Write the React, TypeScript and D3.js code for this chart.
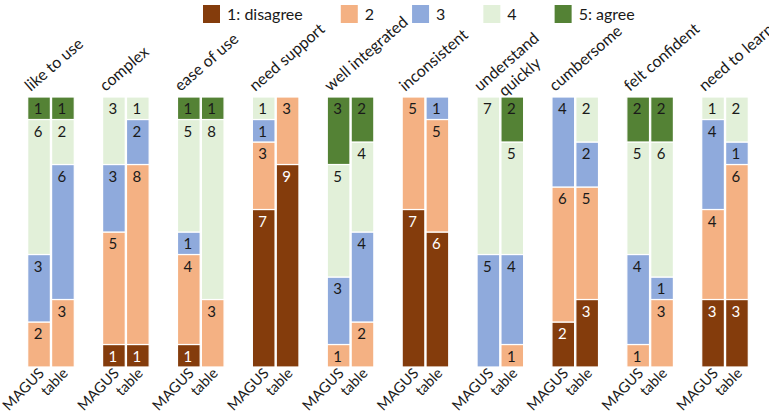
import * as d3 from "d3";
import { useEffect, useRef } from "react";

const questions = [
  "like to use",
  "complex",
  "ease of use",
  "need support",
  "well integrated",
  "inconsistent",
  "understand\nquickly",
  "cumbersome",
  "felt confident",
  "need to learn",
];
const conditions = ["MAGUS", "table"];
const levels = ["1: disagree", "2", "3", "4", "5: agree"];
const colors = ["#843C0C", "#F4B183", "#8FAADC", "#E2F0D9", "#548235"];

// counts per level (1..5) for each question, 12 participants
const magusCounts = [
  [0, 2, 3, 6, 1],
  [1, 5, 3, 3, 0],
  [1, 4, 1, 5, 1],
  [7, 3, 1, 1, 0],
  [0, 1, 3, 5, 3],
  [7, 5, 0, 0, 0],
  [0, 0, 5, 7, 0],
  [2, 6, 4, 0, 0],
  [0, 1, 4, 5, 2],
  [3, 4, 4, 1, 0],
];
const tableCounts = [
  [0, 3, 6, 2, 1],
  [1, 8, 2, 1, 0],
  [0, 3, 0, 8, 1],
  [9, 3, 0, 0, 0],
  [0, 2, 4, 4, 2],
  [6, 5, 1, 0, 0],
  [0, 1, 4, 5, 2],
  [3, 5, 2, 2, 0],
  [0, 3, 1, 6, 2],
  [3, 6, 1, 2, 0],
];

const W = 769;
const H = 417;
const FONT = "Lato, 'Open Sans', sans-serif";

export default function App() {
  const ref = useRef<SVGSVGElement | null>(null);

  useEffect(() => {
    const svg = d3.select(ref.current);
    svg.selectAll("*").remove();
    svg.style("font-family", FONT);

    const x = d3
      .scaleBand<string>()
      .domain(questions)
      .range([27.7, 748.3])
      .paddingInner(0.378)
      .paddingOuter(0);
    const xs = d3
      .scaleBand<string>()
      .domain(conditions)
      .range([0, x.bandwidth()])
      .paddingInner(0.05);
    const y = d3.scaleLinear().domain([0, 12]).range([367, 97]);
    const keys = levels.map((_, i) => String(i));

    // stacked bars
    const countsBy: Record<string, number[][]> = { MAGUS: magusCounts, table: tableCounts };
    conditions.forEach((cond) => {
      const rows = questions.map((q, i) => {
        const r: Record<string, number | string> = { q };
        countsBy[cond][i].forEach((v, k) => (r[String(k)] = v));
        return r;
      });
      const series = d3.stack<Record<string, number | string>>().keys(keys)(rows as any);
      const g = svg.append("g");
      series.forEach((s, li) => {
        s.forEach((seg) => {
          const v = seg[1] - seg[0];
          if (v <= 0) return;
          const q = seg.data.q as string;
          const bx = (x(q) ?? 0) + (xs(cond) ?? 0);
          const top = y(seg[1]);
          g.append("rect")
            .attr("x", bx)
            .attr("y", top)
            .attr("width", xs.bandwidth())
            .attr("height", y(seg[0]) - top)
            .attr("fill", colors[li])
            .attr("stroke", "#fff")
            .attr("stroke-width", 1.2);
          g.append("text")
            .attr("x", bx + xs.bandwidth() / 2 - 1)
            .attr("y", top + 17)
            .attr("text-anchor", "middle")
            .attr("font-size", 15)
            .attr("fill", li === 0 ? "#fff" : "#1a1a1a")
            .text(v);
        });
      });
    });

    // condition labels under bars
    questions.forEach((q) => {
      conditions.forEach((cond) => {
        const cx = (x(q) ?? 0) + (xs(cond) ?? 0) + xs.bandwidth() / 2;
        svg
          .append("text")
          .attr("transform", `translate(${cx + 6},${y(0) + 7}) rotate(-46)`)
          .attr("text-anchor", "end")
          .attr("font-size", 14.5)
          .attr("fill", "#1a1a1a")
          .text(cond);
      });
    });

    // question labels above bars
    questions.forEach((q) => {
      const lines = q.split("\n");
      const t = svg
        .append("text")
        .attr("transform", `translate(${(x(q) ?? 0) + 3},92) rotate(-41)`)
        .attr("font-size", 16)
        .attr("fill", "#1a1a1a");
      const spans = lines.map((ln, i) =>
        t.append("tspan").attr("x", 0).attr("y", i * 20).text(ln)
      );
      if (lines.length > 1) {
        const w0 = (spans[0].node() as SVGTSpanElement).getComputedTextLength();
        spans.forEach((sp, i) => {
          if (i === 0) return;
          const wi = (sp.node() as SVGTSpanElement).getComputedTextLength();
          sp.attr("x", (w0 - wi) / 2);
        });
      }
    });

    // legend
    let lx = 203;
    levels.forEach((lv, i) => {
      svg
        .append("rect")
        .attr("x", lx)
        .attr("y", 5)
        .attr("width", 17)
        .attr("height", 18)
        .attr("fill", colors[i]);
      const t = svg
        .append("text")
        .attr("x", lx + 24)
        .attr("y", 20)
        .attr("font-size", 16)
        .attr("fill", "#1a1a1a")
        .text(lv);
      const w = (t.node() as SVGTextElement).getComputedTextLength();
      lx += 24 + w + 38;
    });
  }, []);

  return (
    <svg
      ref={ref}
      width={W}
      height={H}
      style={{ position: "absolute", left: 0, top: 0, background: "#fff" }}
    />
  );
}
